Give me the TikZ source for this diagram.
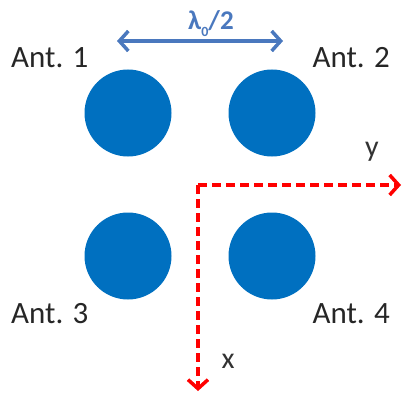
\documentclass[tikz,border=0pt]{standalone}
\usepackage{fontspec}
\setmainfont{Carlito}
\usetikzlibrary{arrows.meta}
\definecolor{antblue}{HTML}{0070C0}
\definecolor{arrblue}{HTML}{4A78BE}
\definecolor{axred}{HTML}{FF0000}
\begin{document}
\begin{tikzpicture}[x=1pt,y=-1pt,
  ant/.style={circle,fill=antblue,minimum size=87pt,inner sep=0pt},
  lbl/.style={font=\fontsize{31}{31}\selectfont,text=black!85,inner sep=0pt},
  barb/.style={Straight Barb[length=9pt,width=20pt,line width=3.5pt]},
  axis/.style={axred,line width=3.5pt,dash pattern=on 9pt off 5pt,-{Straight Barb[length=9pt,width=20pt,line width=3.5pt]}},
  axlbl/.style={font=\fontsize{30}{30}\selectfont,text=black!80,inner sep=0pt}]
\useasboundingbox (0,0) rectangle (402,396);
\node[ant] (a1) at (128,113) {};
\node[ant] (a2) at (272,113) {};
\node[ant] (a3) at (128,256) {};
\node[ant] (a4) at (272,256) {};
\node[lbl,anchor=base west] (l1) at (11,67) {Ant. 1};
\node[lbl,anchor=base east] (l2) at (390,67) {Ant. 2};
\node[lbl,anchor=base west] (l3) at (11,323) {Ant. 3};
\node[lbl,anchor=base east] (l4) at (390,323) {Ant. 4};
\coordinate (la) at (117,41);
\coordinate (lb) at (283,41);
\draw[arrblue,line width=3.5pt,{Straight Barb[length=9pt,width=20pt,line width=3.5pt]}-{Straight Barb[length=9pt,width=20pt,line width=3.5pt]}] (la) -- (lb);
\node[text=arrblue,font=\fontsize{27}{27}\selectfont\bfseries,anchor=base,inner sep=0pt] (lam) at (211,30) {λ\raisebox{-0.25em}{\fontsize{14}{14}\selectfont 0}/2};
\coordinate (o) at (198,185);
\coordinate (ye) at (401,185);
\coordinate (xe) at (198,391);
\draw[axis] (o) -- (ye);
\draw[axis] (o) -- (xe);
\node[axlbl] (ly) at (372,152) {y};
\node[axlbl] (lx) at (228,361) {x};
\end{tikzpicture}
\end{document}
